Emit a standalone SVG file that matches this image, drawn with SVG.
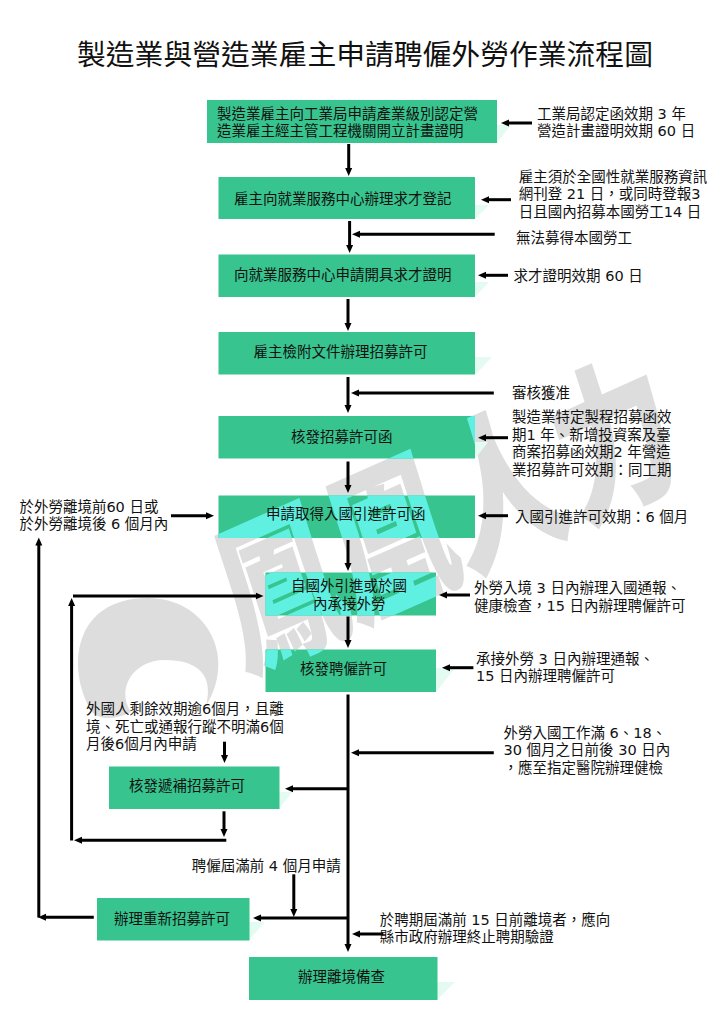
<svg xmlns="http://www.w3.org/2000/svg" xmlns:xlink="http://www.w3.org/1999/xlink" width="724" height="1024" viewBox="0 0 724 1024">
<style>
text{font-family:"DejaVu Sans","Noto Sans CJK TC",sans-serif;font-size:14.5px;fill:#111}
.title{font-size:28.8px}
.box{fill:#37C48E}
.wm{fill:#DDDDDD}
.wmc{fill:#5FF0E2}
.sl{fill:#E3FBF1}
text.wmt{font-family:"Noto Sans CJK TC",sans-serif;font-size:116px;font-weight:900;fill:inherit}
line{stroke:#000;stroke-width:3;fill:none}
.a{marker-end:url(#h)}
</style>
<defs>
<marker id="h" markerUnits="userSpaceOnUse" markerWidth="10" markerHeight="10" refX="2" refY="5" orient="auto"><path d="M0,1.500 L8,5 L0,8.500 z" fill="#000"/></marker>
<text id="wmtext" class="wmt" transform="translate(243,670) rotate(-24) skewX(-6) scale(1.05,1.4)">鳳凰人力</text>
<path id="wmring" d="M92,712 C66,670 72,598 148,598 C205,598 238,655 206,706 C214,675 198,660 165,660 C132,660 116,690 131,712 C115,720 100,720 92,712 Z"/>
<clipPath id="boxclip">
<rect x="207" y="100" width="290" height="43"/>
<rect x="218.500" y="177" width="256.500" height="42"/>
<rect x="218.500" y="254.500" width="256.500" height="42.500"/>
<rect x="218.500" y="332" width="256.500" height="42.500"/>
<rect x="218.500" y="416" width="256.500" height="42.500"/>
<rect x="218.500" y="495.500" width="256.500" height="42.500"/>
<rect x="265.500" y="572.500" width="170.500" height="43"/>
<rect x="265.500" y="649.500" width="170.500" height="42.500"/>
<rect x="109" y="766.500" width="170.500" height="42.500"/>
<rect x="97" y="898" width="152.500" height="42.500"/>
<rect x="249" y="957" width="188.500" height="43"/>
</clipPath>
</defs>
<rect width="724" height="1024" fill="#fff"/>
<g id="watermark">
<use href="#wmring" class="wm"/>
<use href="#wmtext" class="wm"/>
<path class="sl" d="M497,143 L497,125 L511,125 Z M475,219 L475,205 L489,205 Z M475,297 L475,282 L489,282 Z M475,375 L475,357 L492,357 Z M475,459 L475,442 L488,442 Z M436,692 L436,668 L455,668 Z M279,809 L279,792 L292,792 Z M249,940 L249,922 L265,922 Z M437,1000 L437,982 L455,982 Z"/>
</g>
<text id="title" class="title" x="77" y="65">製造業與營造業雇主申請聘僱外勞作業流程圖</text>
<g id="connectors">
<line class="a" x1="348.700" y1="144" x2="348.700" y2="170"/>
<line class="a" x1="349.600" y1="221" x2="349.600" y2="247"/>
<line class="a" x1="348" y1="299" x2="348" y2="325"/>
<line class="a" x1="348" y1="377" x2="348" y2="407"/>
<line class="a" x1="348" y1="461.500" x2="348" y2="487"/>
<line class="a" x1="348" y1="540" x2="348" y2="565"/>
<line class="a" x1="348" y1="616.500" x2="348" y2="642"/>
<line class="a" x1="348" y1="694.500" x2="348" y2="946"/>
<line class="a" x1="532" y1="123" x2="507" y2="123"/>
<line class="a" x1="511" y1="199.700" x2="487" y2="199.700"/>
<line class="a" x1="494.700" y1="234.300" x2="358" y2="234.300"/>
<line class="a" x1="508" y1="275.300" x2="484" y2="275.300"/>
<line class="a" x1="493.800" y1="393" x2="357" y2="393"/>
<line class="a" x1="508" y1="437.700" x2="484" y2="437.700"/>
<line class="a" x1="508" y1="515.700" x2="484" y2="515.700"/>
<line class="a" x1="171" y1="515.700" x2="208" y2="515.700"/>
<line class="a" x1="38.800" y1="917.500" x2="38.800" y2="543.500"/>
<line class="a" x1="71.600" y1="840.500" x2="71.600" y2="604"/>
<line class="a" x1="73" y1="596" x2="257.500" y2="596"/>
<line class="a" x1="470" y1="595" x2="445" y2="595"/>
<line class="a" x1="473.400" y1="667.700" x2="448" y2="667.700"/>
<line class="a" x1="493.800" y1="752.700" x2="357" y2="752.700"/>
<line class="a" x1="224.500" y1="741.700" x2="224.500" y2="757"/>
<line class="a" x1="347" y1="788.700" x2="291" y2="788.700"/>
<line class="a" x1="224" y1="811.300" x2="224" y2="831"/>
<line class="a" x1="226.300" y1="840.300" x2="80" y2="840.300"/>
<line class="a" x1="293.800" y1="874.300" x2="293.800" y2="911"/>
<line class="a" x1="347" y1="918" x2="259" y2="918"/>
<line class="a" x1="93.800" y1="917.300" x2="44" y2="917.300"/>
<line class="a" x1="383.400" y1="934" x2="358" y2="934"/>
</g>
<g id="n1"><rect class="box" x="207" y="100" width="290" height="43"/><text x="217" y="118.500">製造業雇主向工業局申請產業級別認定營</text><text x="217" y="136">造業雇主經主管工程機關開立計畫證明</text></g>
<g id="n2"><rect class="box" x="218.500" y="177" width="256.500" height="42"/><text x="234" y="204">雇主向就業服務中心辦理求才登記</text></g>
<g id="n3"><rect class="box" x="218.500" y="254.500" width="256.500" height="42.500"/><text x="234" y="280">向就業服務中心申請開具求才證明</text></g>
<g id="n4"><rect class="box" x="218.500" y="332" width="256.500" height="42.500"/><text x="253.600" y="357">雇主檢附文件辦理招募許可</text></g>
<g id="n5"><rect class="box" x="218.500" y="416" width="256.500" height="42.500"/><text x="291" y="442">核發招募許可函</text></g>
<g id="n6"><rect class="box" x="218.500" y="495.500" width="256.500" height="42.500"/></g>
<g id="n7"><rect class="box" x="265.500" y="572.500" width="170.500" height="43"/></g>
<g id="n8"><rect class="box" x="265.500" y="649.500" width="170.500" height="42.500"/><text x="300" y="674">核發聘僱許可</text></g>
<g id="n9"><rect class="box" x="109" y="766.500" width="170.500" height="42.500"/><text x="129" y="791">核發遞補招募許可</text></g>
<g id="n10"><rect class="box" x="97" y="898" width="152.500" height="42.500"/><text x="114" y="924">辦理重新招募許可</text></g>
<g id="n11"><rect class="box" x="249" y="957" width="188.500" height="43"/><text x="298" y="982">辦理離境備查</text></g>
<g id="watermark-over" clip-path="url(#boxclip)"><use href="#wmtext" class="wmc"/></g>
<g id="n6-label"><text x="266" y="518.500">申請取得入國引進許可函</text></g>
<g id="n7-label"><text x="291" y="591">自國外引進或於國</text><text x="313" y="608.500">內承接外勞</text></g>
<g id="notes">
<text x="537" y="118.500">工業局認定函效期 3 年</text>
<text x="537" y="136">營造計畫證明效期 60 日</text>
<text x="518.700" y="181.500">雇主須於全國性就業服務資訊</text>
<text x="518.700" y="199">網刊登 21 日，或同時登報3</text>
<text x="518.700" y="216.500">日且國內招募本國勞工14 日</text>
<text x="516" y="242.500">無法募得本國勞工</text>
<text x="513.600" y="280.500">求才證明效期 60 日</text>
<text x="512" y="398">審核獲准</text>
<text x="512" y="422">製造業特定製程招募函效</text>
<text x="512" y="439.500">期1 年、新增投資案及臺</text>
<text x="512" y="457">商案招募函效期2 年營造</text>
<text x="512" y="474.500">業招募許可效期：同工期</text>
<text x="19.400" y="511.500">於外勞離境前60 日或</text>
<text x="19.400" y="529">於外勞離境後 6 個月內</text>
<text x="515" y="521.500">入國引進許可效期：6 個月</text>
<text x="474" y="593">外勞入境 3 日內辦理入國通報、</text>
<text x="474" y="610.500">健康檢查，15 日內辦理聘僱許可</text>
<text x="476" y="663.500">承接外勞 3 日內辦理通報、</text>
<text x="476" y="681">15 日內辦理聘僱許可</text>
<text x="86" y="714">外國人剩餘效期逾6個月，且離</text>
<text x="86" y="732">境、死亡或通報行蹤不明滿6個</text>
<text x="86" y="749">月後6個月內申請</text>
<text x="503.500" y="737.500">外勞入國工作滿 6、18、</text>
<text x="503.500" y="755">30 個月之日前後 30 日內</text>
<text x="503.500" y="773">，應至指定醫院辦理健檢</text>
<text x="191.700" y="871">聘僱屆滿前 4 個月申請</text>
<text x="379.700" y="924.500">於聘期屆滿前 15 日前離境者，應向</text>
<text x="379.700" y="942">縣市政府辦理終止聘期驗證</text>
</g>
</svg>
